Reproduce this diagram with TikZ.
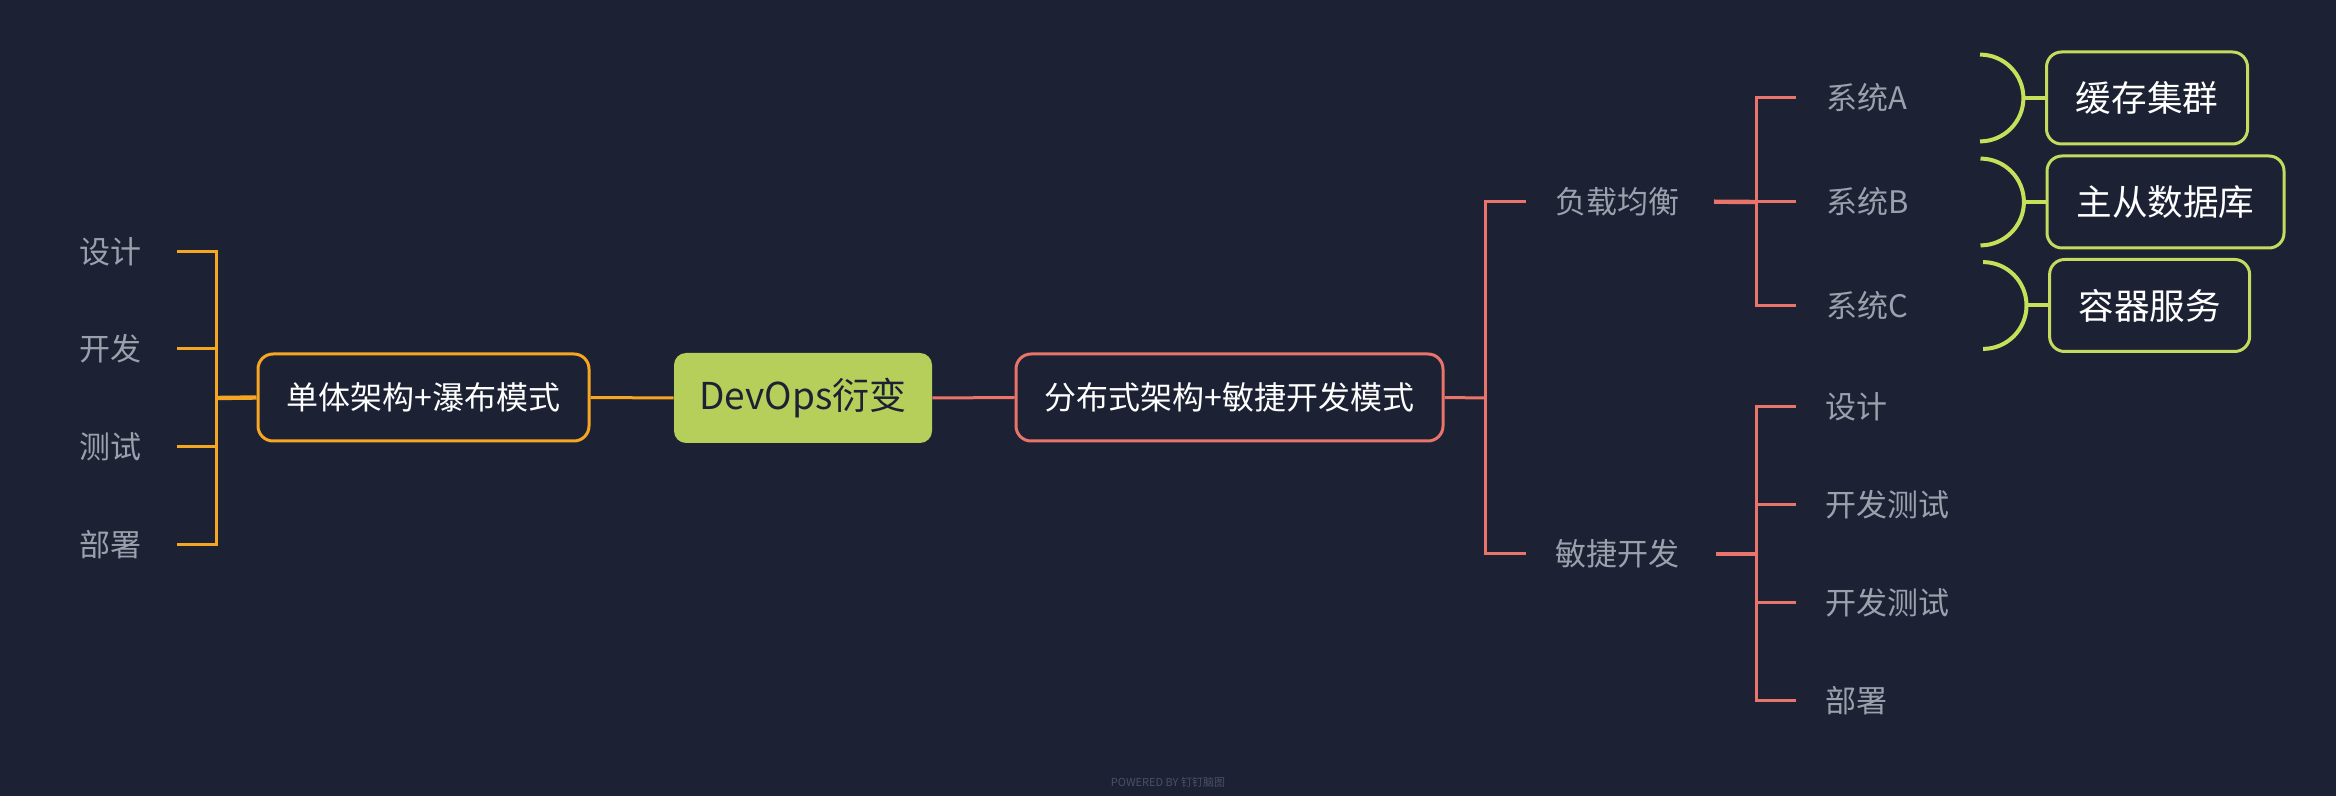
\documentclass[tikz,border=0pt]{standalone}
\usepackage{fontspec}
\setmainfont{Noto Sans CJK SC}
\usetikzlibrary{calc}
\definecolor{bgc}{RGB}{28,33,51}
\definecolor{orangec}{RGB}{245,166,35}
\definecolor{redc}{RGB}{232,116,106}
\definecolor{limec}{RGB}{198,224,90}
\definecolor{limebox}{RGB}{196,219,95}
\definecolor{rootfill}{RGB}{182,207,91}
\definecolor{grayc}{RGB}{154,160,172}
\definecolor{wmc}{RGB}{74,80,102}
\tikzset{
  leaf/.style={inner sep=0pt, anchor=west, text=grayc, font=\fontsize{15.5pt}{18pt}\selectfont},
  midbox/.style={draw, line width=1.5pt, rounded corners=7.5pt, inner sep=0pt, text=white, fill=bgc,
     minimum height=43.5pt, font=\fontsize{16pt}{18pt}\selectfont},
  rootbox/.style={fill=rootfill, rounded corners=6pt, inner sep=0pt, text=bgc,
     minimum width=129pt, minimum height=45pt, font=\fontsize{18.5pt}{22pt}\selectfont},
  gbox/.style={draw=limebox, line width=1.5pt, rounded corners=7.5pt, inner sep=0pt, text=white,
     minimum height=46pt, font=\fontsize{17.8pt}{20pt}\selectfont},
  oline/.style={draw=orangec, line width=1.5pt},
  rline/.style={draw=redc, line width=1.5pt},
  thickstub/.style={line width=2.2pt},
  brk/.style={draw=limec, line width=2pt},
  wm/.style={inner sep=0pt, text=wmc, font=\fontsize{5.5pt}{6pt}\selectfont}
}
\begin{document}
\begin{tikzpicture}[x=0.5pt,y=-0.5pt]
\fill[bgc] (0,0) rectangle (2336,796);
\useasboundingbox (0,0) rectangle (2336,796);

% root and main branches
\node[rootbox] (root) at (803,398) {DevOps衍变};
\node[midbox, draw=orangec, minimum width=165.5pt] (lb) at (423.5,397.5) {单体架构+瀑布模式};
\node[midbox, draw=redc, minimum width=213.5pt] (rb) at (1229.5,397.5) {分布式架构+敏捷开发模式};

\draw[oline] (lb.east) -- (root.west);
\draw[rline] (root.east) -- (rb.west);

% left leaves
\node[leaf] (l1) at (79.5,252) {设计};
\node[leaf] (l2) at (79.5,349) {开发};
\node[leaf] (l3) at (79.5,447) {测试};
\node[leaf] (l4) at (79.5,545) {部署};
\coordinate (ls) at (216.5,398);
\draw[oline, thickstub] (lb.west) -- (ls);
\foreach \n in {l1,l2,l3,l4} \draw[oline] (ls) |- ([xshift=17.5pt]\n.east);

% right level 1
\node[leaf] (fz) at (1555,201.7) {负载均衡};
\node[leaf] (mj) at (1555,554) {敏捷开发};
\coordinate (rs) at (1485.6,398);
\draw[rline] (rb.east) -- (rs);
\draw[rline] (rs) |- ([xshift=-14.5pt]fz.west);
\draw[rline] (rs) |- ([xshift=-14.5pt]mj.west);

% systems
\node[leaf] (sa) at (1826.5,98) {系统A};
\node[leaf] (sb) at (1826.5,202) {系统B};
\node[leaf] (sc) at (1826.5,306) {系统C};
\coordinate (fs) at (1756,202);
\draw[rline, thickstub] ([xshift=17.2pt]fz.east) -- (fs);
\foreach \n in {sa,sb,sc} \draw[rline] (fs) |- ([xshift=-15.2pt]\n.west);

% agile leaves
\node[leaf] (d1) at (1825,406.7) {设计};
\node[leaf] (d2) at (1825,505) {开发测试};
\node[leaf] (d3) at (1825,603) {开发测试};
\node[leaf] (d4) at (1825,700.7) {部署};
\coordinate (ms) at (1756,554);
\draw[rline, thickstub] ([xshift=18pt]mj.east) -- (ms);
\foreach \n in {d1,d2,d3,d4} \draw[rline] (ms) |- ([xshift=-14.5pt]\n.west);

% summary boxes
\node[gbox, minimum width=100.5pt] (ga) at (2147,98) {缓存集群};
\node[gbox, minimum width=118.5pt] (gb) at (2165.5,202) {主从数据库};
\node[gbox, minimum width=100pt] (gc) at (2149.6,305.5) {容器服务};
\foreach \g in {ga,gb,gc}{
  \draw[brk] ([xshift=-32.5pt,yshift=21.7pt]\g.west) arc[start angle=90, end angle=-90, radius=21.7pt];
  \draw[brk] ([xshift=-11.2pt]\g.west) -- (\g.west);
}

% watermark
\node[wm] (wmk) at (1168,782) {POWERED BY 钉钉脑图};
\end{tikzpicture}
\end{document}
